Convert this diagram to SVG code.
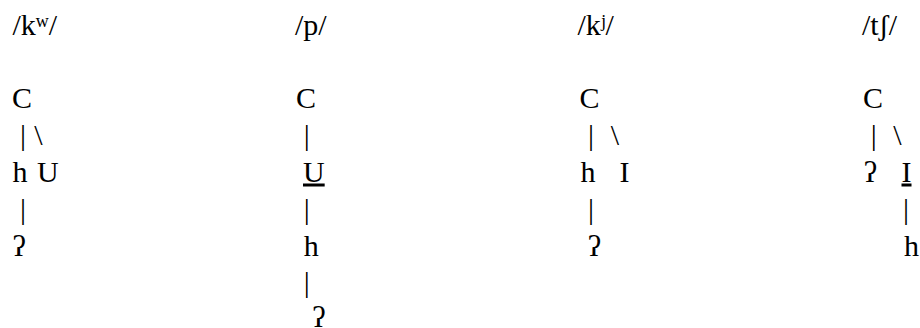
<svg xmlns="http://www.w3.org/2000/svg" width="920" height="328" viewBox="0 0 920 328">
<style>
text{font-size:30px;fill:#000}
.m{text-anchor:middle}
.u{text-decoration:underline}
</style>
<rect width="920" height="328" fill="#fff"/>
<g font-family="Liberation Serif, Times New Roman, DejaVu Serif, serif">
<g id="kw">
<g id="kw-title"><text x="12.5" y="34.5">/kʷ/</text></g>
<g id="kw-C"><text x="12" y="108">C</text></g>
<g id="kw-h"><text x="12.4" y="181.5">h</text></g>
<g id="kw-U"><text x="37" y="181.5">U</text></g>
<g id="kw-q"><text class="m" x="19.2" y="255.5">ʔ</text></g>
</g>
<g id="p">
<g id="p-title"><text x="295" y="34.5">/p/</text></g>
<g id="p-C"><text x="296" y="108">C</text></g>
<g id="p-U"><text class="u" x="303" y="181.5">U</text></g>
<g id="p-h"><text x="303.7" y="255.5">h</text></g>
<g id="p-q"><text class="m" x="318.8" y="326.5">ʔ</text></g>
</g>
<g id="kj">
<g id="kj-title"><text x="577.5" y="34.5">/kʲ/</text></g>
<g id="kj-C"><text x="579.5" y="108">C</text></g>
<g id="kj-h"><text x="580.4" y="181.5">h</text></g>
<g id="kj-I"><text x="619.4" y="181.5">I</text></g>
<g id="kj-q"><text class="m" x="594.5" y="255.5">ʔ</text></g>
</g>
<g id="tsh">
<g id="tsh-title"><text x="862" y="34.5">/tʃ/</text></g>
<g id="tsh-C"><text x="863" y="108">C</text></g>
<g id="tsh-q"><text class="m" x="870.5" y="181.5">ʔ</text></g>
<g id="tsh-I"><text class="u" x="901.5" y="181.5">I</text></g>
<g id="tsh-h"><text x="904" y="255.5">h</text></g>
</g>
<g id="connectors">
<text class="m" x="23" y="144.5">|</text>
<text class="m" x="38.3" y="144.5">\</text>
<text class="m" x="23" y="218.5">|</text>
<text class="m" x="306.7" y="144.5">|</text>
<text class="m" x="306.7" y="218.5">|</text>
<text class="m" x="306.7" y="291.5">|</text>
<text class="m" x="591" y="144.5">|</text>
<text class="m" x="615" y="144.5">\</text>
<text class="m" x="591" y="218.5">|</text>
<text class="m" x="873.7" y="144.5">|</text>
<text class="m" x="897.5" y="144.5">\</text>
<text class="m" x="906" y="218.5">|</text>
</g>
</g>
</svg>
